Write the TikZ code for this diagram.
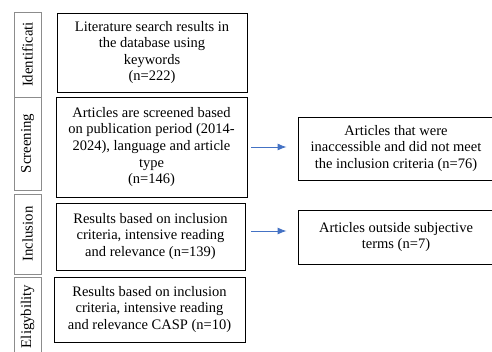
\documentclass[tikz,border=0pt]{standalone}
\usepackage{fontspec}
\setmainfont{Liberation Serif}
\usepackage{tikz}
\usetikzlibrary{arrows.meta}
\definecolor{arrowblue}{HTML}{4472C4}

\begin{document}
\begin{tikzpicture}[x=1pt, y=-1pt,
        phase/.style = {draw=black!45,
                        line width=0.8pt,
                        rotate=90,
                        inner sep=0pt,
                        font=\fontsize{14.8}{16}\selectfont},
        entry/.style = {draw,
                        line width=0.9pt,
                        align=center,
                        inner sep=0pt,
                        font=\fontsize{14.5}{16.6}\selectfont},
        flow/.style = {draw=arrowblue,
                       line width=0.9pt,
                       -{Latex[length=9pt,width=7pt]}}]

    \useasboundingbox (0,0) rectangle (492,352);

    % stages on the left
    \node (ident) at (27.5,54.5) [phase, minimum width=85pt, minimum height=27pt] {Identificati};
    \node (screen) at (27.5,143.5) [phase, minimum width=93pt, minimum height=27pt] {Screening};
    \node (incl) at (27.5,234) [phase, minimum width=80pt, minimum height=27pt] {Inclusion};
    \node (elig) at (27.5,316.5) [phase, minimum width=79pt, minimum height=27pt] {Eligybility};

    % main column
    \node (search) at (152,52.5) [entry, minimum width=190pt, minimum height=79pt]
        {Literature search results in\\the database using\\keywords\\(n=222)};
    \node (screened) at (151.5,147) [entry, minimum width=191pt, minimum height=100pt]
        {Articles are screened based\\on publication period (2014-\\2024), language and article\\type\\(n=146)};
    \node (included) at (150.5,236.5) [entry, minimum width=189pt, minimum height=67pt]
        {Results based on inclusion\\criteria, intensive reading\\and relevance (n=139)};
    \node (final) at (149.5,309.5) [entry, minimum width=191pt, minimum height=65pt]
        {Results based on inclusion\\criteria, intensive reading\\and relevance CASP (n=10)};

    % excluded records
    \node (excl) at (396,148.5) [entry, minimum width=196pt, minimum height=63pt]
        {Articles that were\\inaccessible and did not meet\\the inclusion criteria (n=76)};
    \node (outside) at (396,237) [entry, minimum width=196pt, minimum height=54pt]
        {Articles outside subjective\\terms (n=7)};

    \draw [flow, shorten <=4pt, shorten >=11pt] (screened.east) -- (screened.east -| excl.west);
    \draw [flow, shorten <=6pt, shorten >=11pt] ([yshift=5.5pt]included.east) -- ([yshift=5.5pt]included.east -| outside.west);

\end{tikzpicture}
\end{document}
